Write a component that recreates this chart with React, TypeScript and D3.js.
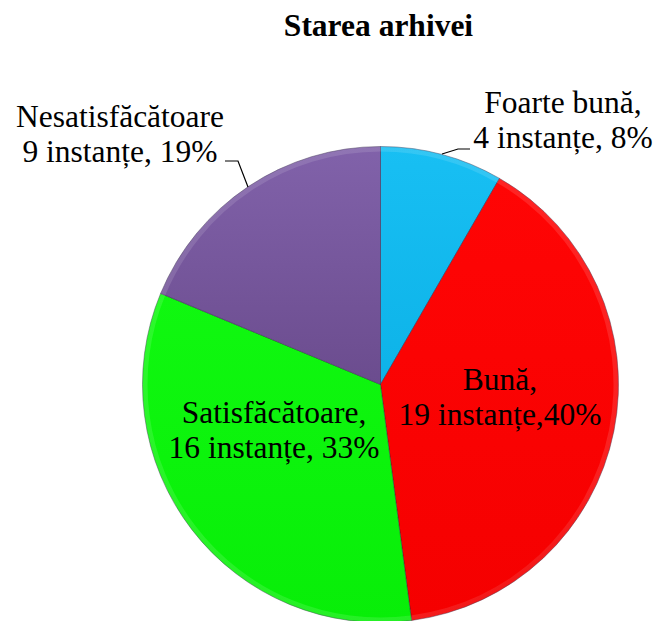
import React from "react";
import * as d3 from "d3";

const title = "Starea arhivei";
const categories = ["Foarte bună", "Bună", "Satisfăcătoare", "Nesatisfăcătoare"];
const counts = [4, 19, 16, 9];
const labelLine1 = ["Foarte bună,", "Bună,", "Satisfăcătoare,", "Nesatisfăcătoare"];
const labelLine2 = ["4 instanțe, 8%", "19 instanțe,40%", "16 instanțe, 33%", "9 instanțe, 19%"];
const colors = ["#18BFF3", "#FF0505", "#10F810", "#8162AA"];
const colorsDark = ["#0DB3E8", "#F50000", "#08EE08", "#6B4C8E"];

const W = 654;
const H = 621;
const cx = 380.5;
const cy = 384.5;
const R = 238;

const FONT = "'Liberation Serif', Tinos, 'Times New Roman', Times, serif";

// label anchor positions (center x, first baseline y) and leader lines
const labelPos: [number, number][] = [
  [563, 113],
  [500, 390],
  [274, 423],
  [120, 127],
];
const leaders: ([number, number][] | null)[] = [
  [[470, 149], [458, 149], [442, 154]],
  null,
  null,
  [[225, 161], [238, 161], [248, 187]],
];

export default function App() {
  const pie = d3
    .pie<number>()
    .sort(null)
    .value((d) => d)
    .startAngle(0)
    .endAngle(2 * Math.PI);
  const arcs = pie(counts);
  const arc = d3.arc<d3.PieArcDatum<number>>().innerRadius(0).outerRadius(R);
  const rim = d3.arc<d3.PieArcDatum<number>>().innerRadius(R - 5).outerRadius(R);
  const line = d3.line();

  return (
    <svg
      width={W}
      height={H}
      style={{ position: "absolute", left: 0, top: 0, display: "block" }}
    >
      <defs>
        {colors.map((c, i) => (
          <linearGradient key={i} id={`g${i}`} x1="0" y1="0" x2="0" y2="1">
            <stop offset="0%" stopColor={c} />
            <stop offset="100%" stopColor={colorsDark[i]} />
          </linearGradient>
        ))}
        <linearGradient id="rimG" gradientUnits="userSpaceOnUse" x1={cx - R} y1={cy - R} x2={cx + R * 0.3} y2={cy + R}>
          <stop offset="0%" stopColor="#ffffff" stopOpacity={0.12} />
          <stop offset="55%" stopColor="#000000" stopOpacity={0.0} />
          <stop offset="100%" stopColor="#000000" stopOpacity={0.18} />
        </linearGradient>
      </defs>
      <rect width={W} height={H} fill="#ffffff" />
      <text x={378.5} y={36} textAnchor="middle" fontWeight="bold" fontSize={31.5} fill="#000" style={{ fontFamily: FONT }}>
        {title}
      </text>
      <g transform={`translate(${cx},${cy})`}>
        {arcs.map((a, i) => (
          <path key={categories[i]} d={arc(a) || ""} fill={`url(#g${i})`} stroke="rgba(40,30,60,0.5)" strokeWidth={0.8} />
        ))}
      </g>
      <g>
        {arcs.map((a, i) => (
          <path key={"rr" + i} d={rim(a) || ""} transform={`translate(${cx},${cy})`} fill="url(#rimG)" />
        ))}
      </g>
      {leaders.map((l, i) =>
        l ? <path key={"l" + i} d={line(l) || ""} fill="none" stroke="#000" strokeWidth={1.2} /> : null
      )}
      {labelPos.map(([x, y], i) => (
        <g key={"t" + i}>
          <text x={x} y={y} textAnchor="middle" fontSize={31.5} fill="#000" style={{ fontFamily: FONT }}>
            {labelLine1[i]}
          </text>
          <text x={x} y={y + 35} textAnchor="middle" fontSize={31.5} fill="#000" style={{ fontFamily: FONT }}>
            {labelLine2[i]}
          </text>
        </g>
      ))}
    </svg>
  );
}
